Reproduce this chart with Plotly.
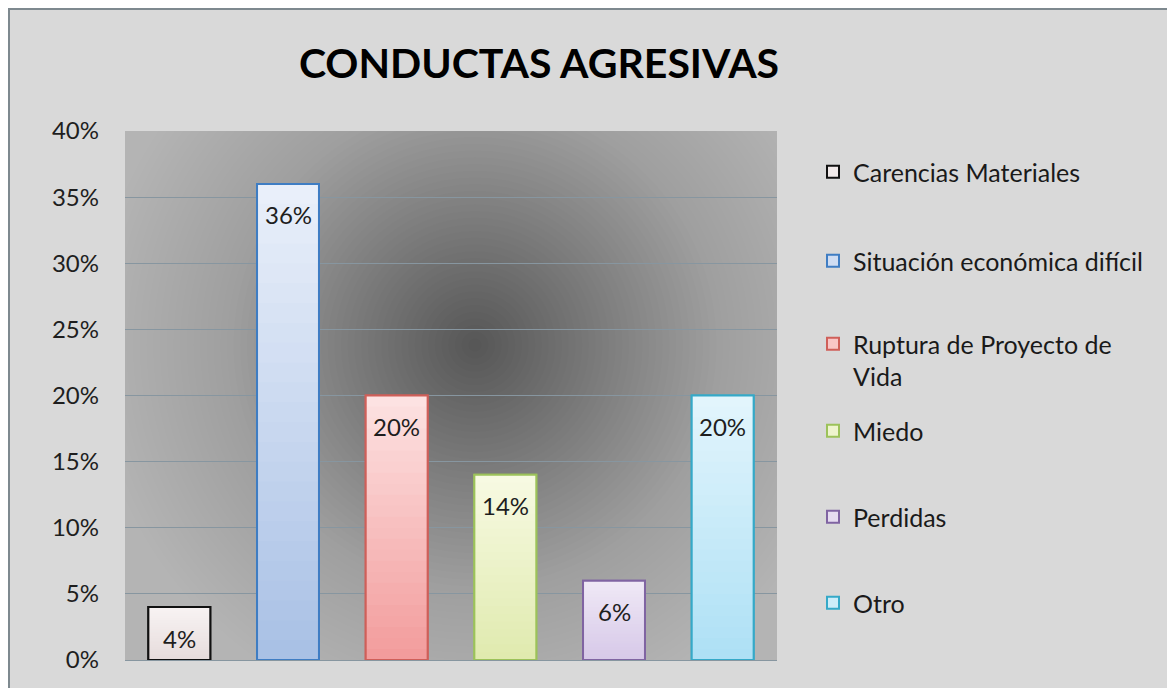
import plotly.graph_objects as go

# ---- data ----
categories = ["Carencias Materiales", "Situación económica difícil",
              "Ruptura de Proyecto de Vida", "Miedo", "Perdidas", "Otro"]
legend_labels = ["Carencias Materiales", "Situación económica difícil",
                 "Ruptura de Proyecto de<br>Vida", "Miedo", "Perdidas", "Otro"]
values = [0.04, 0.36, 0.20, 0.14, 0.06, 0.20]
y_tick_vals = [0, 0.05, 0.10, 0.15, 0.20, 0.25, 0.30, 0.35, 0.40]
title_text = "CONDUCTAS AGRESIVAS"

# ---- styles ----
top_colors = ["#f8f3f3", "#eaf0fa", "#fde3e3", "#f8fae3", "#f0e9f6", "#e3f5fc"]
bottom_colors = ["#e6dcdc", "#a8c0e5", "#f29b9b", "#dfeaae", "#d6c8e8", "#ade0f5"]
line_colors = ["#111111", "#3f7dc3", "#cf5f59", "#9cc25a", "#8064a2", "#35a9c8"]
FONT = "Lato"

OFF = 8  # page body margin
W, H = 1175 - OFF, 688 - OFF
L, T = 125 - OFF, 131 - OFF
PW, PH = 652, 529
R, B = W - L - PW, H - T - PH
ncat = len(categories)
ymax = 0.40
cat_px = PW / ncat
BAR_W = 0.57


def hex2rgb(h):
    h = h.lstrip("#")
    return tuple(int(h[i:i + 2], 16) for i in (0, 2, 4))


def mix(c1, c2, t):
    a, b = hex2rgb(c1), hex2rgb(c2)
    return "rgb(%d,%d,%d)" % tuple(round(a[i] + (b[i] - a[i]) * t) for i in range(3))


# helpers take screen pixel coordinates (as in the reference)
def px_to_x(px):
    return (px - OFF - L) / cat_px - 0.5


def px_to_y(py):
    return (T + PH - (py - OFF)) / PH * ymax


def px_to_paper_x(px):
    return (px - OFF - L) / PW


def px_to_paper_y(py):
    return (T + PH - (py - OFF)) / PH


fig = go.Figure()

NSEG = 24
for i, (cat, lab, v) in enumerate(zip(categories, legend_labels, values)):
    lg = "legend" if i == 0 else f"legend{i+1}"
    # legend-carrying bar
    fig.add_trace(go.Bar(
        x=[cat], y=[v], name=lab, width=BAR_W,
        marker=dict(color=mix(top_colors[i], bottom_colors[i], 0.4),
                    line=dict(color=line_colors[i], width=2)),
        legend=lg, hoverinfo="skip",
    ))
    # vertical gradient fill (segments overlap slightly to avoid seams)
    for j in range(NSEG):
        seg_base = v * j / NSEG
        seg_h = min(v / NSEG * 1.6, v - seg_base)
        fig.add_trace(go.Bar(
            x=[cat], y=[seg_h], base=[seg_base], width=BAR_W,
            marker=dict(color=mix(bottom_colors[i], top_colors[i], (j + 0.5) / NSEG),
                        line=dict(width=0)),
            showlegend=False, hoverinfo="skip", legend=lg,
        ))
    # outline on top
    fig.add_trace(go.Bar(
        x=[cat], y=[v], width=BAR_W,
        marker=dict(color="rgba(0,0,0,0)", line=dict(color=line_colors[i], width=2)),
        showlegend=False, hoverinfo="skip", legend=lg,
    ))
    fig.add_annotation(x=cat, y=v, text=f"{round(v*100)}%", showarrow=False,
                       yshift=-31, font=dict(family=FONT, size=24, color="#1e1e1e"))

shapes = []
# chart area with border
shapes.append(dict(type="rect", xref="paper", yref="paper",
                   x0=px_to_paper_x(9), x1=px_to_paper_x(1220),
                   y0=px_to_paper_y(740), y1=px_to_paper_y(9),
                   fillcolor="#d9d9d9", line=dict(color="#7e898f", width=2), layer="below"))
# plot-area base colour
base = 180.0
shapes.append(dict(type="rect", xref="x", yref="y", x0=-0.5, x1=ncat - 0.5, y0=0, y1=ymax,
                   fillcolor="rgb(180,180,180)", line=dict(width=0), layer="below"))
# radial darkening
cx, cy = 475, 345
Rmax = 470.0
N = 70
center = 110
prev = base
for k in range(N, 0, -1):
    r = Rmax * k / N
    t = (k - 0.5) / N
    target = center + (base - center) * (1 - (1 - t) ** 2)
    op = max(0.0, 1 - target / prev)
    prev = target
    shapes.append(dict(type="circle", xref="x", yref="y",
                       x0=px_to_x(cx - r), x1=px_to_x(cx + r),
                       y0=px_to_y(cy + r), y1=px_to_y(cy - r),
                       fillcolor="black", opacity=op, line=dict(width=0), layer="below"))

legend_centers = [172, 261, 360, 431, 517, 603]
legends = {}
for i, pyc in enumerate(legend_centers):
    key = "legend" if i == 0 else f"legend{i+1}"
    legends[key] = dict(x=px_to_paper_x(813), xanchor="left",
                        y=px_to_paper_y(pyc), yanchor="middle",
                        bgcolor="rgba(0,0,0,0)", borderwidth=0,
                        font=dict(family=FONT, size=25, color="#1a1a1a"),
                        valign="top" if "<br>" in legend_labels[i] else "middle",
                        itemclick=False, itemdoubleclick=False)

fig.update_layout(
    width=W, height=H,
    margin=dict(l=L, r=R, t=T, b=B, autoexpand=False),
    paper_bgcolor="white", plot_bgcolor="rgba(0,0,0,0)",
    barmode="overlay",
    showlegend=True,
    title=dict(text=f"<b>{title_text}</b>", x=(539 - OFF) / W, xanchor="center",
               y=1 - (64 - OFF) / H, yanchor="middle", xref="container", yref="container",
               font=dict(family=FONT, size=41, color="#000000")),
    shapes=shapes,
    xaxis=dict(type="category", categoryorder="array", categoryarray=categories,
               showticklabels=False, showgrid=False, zeroline=False,
               range=[-0.5, ncat - 0.5], ticks=""),
    yaxis=dict(range=[0, ymax], tickvals=y_tick_vals, tickformat=".0%",
               showgrid=True, gridcolor="#8796a0", gridwidth=1,
               zeroline=True, zerolinecolor="#8796a0", zerolinewidth=1,
               ticklabelstandoff=25,
               tickfont=dict(family=FONT, size=24, color="#1e1e1e")),
    **legends,
)

fig.write_html("out.html")
